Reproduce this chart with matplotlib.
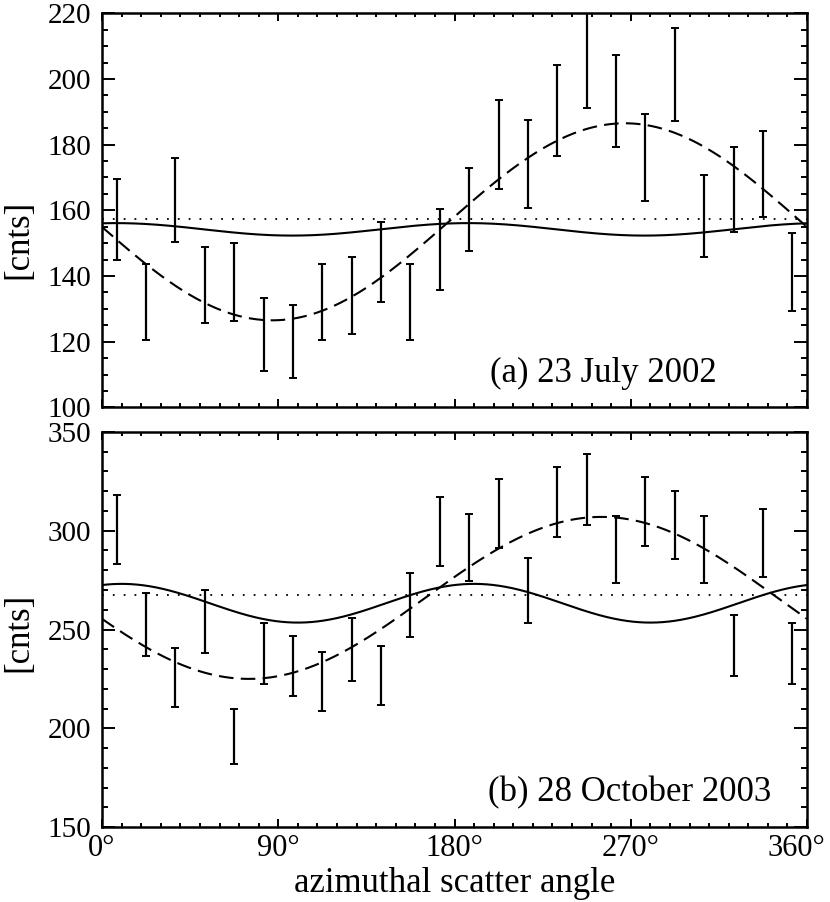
import matplotlib
matplotlib.use('Agg')
import matplotlib.pyplot as plt
from matplotlib.ticker import MultipleLocator
from matplotlib.transforms import ScaledTranslation
import numpy as np

plt.rcParams['font.family'] = ['Liberation Serif', 'DejaVu Serif']

# azimuthal bin centres [deg]
angles = [7.5, 22.5, 37.5, 52.5, 67.5, 82.5, 97.5, 112.5, 127.5, 142.5, 157.5, 172.5,
          187.5, 202.5, 217.5, 232.5, 247.5, 262.5, 277.5, 292.5, 307.5, 322.5, 337.5, 352.5]

# (a) 23 July 2002
cnts_a = [157.2, 132.1, 163.2, 137.3, 138.2, 122.1, 120.1, 132.1, 134.1, 144.2, 132.1, 148.1,
          160.3, 180.1, 174.2, 190.4, 205.5, 193.2, 176.1, 201.3, 158.3, 166.3, 171.1, 141.1]
err_a = [12.4, 11.5, 12.8, 11.6, 11.8, 11.1, 11.1, 11.5, 11.7, 12.1, 11.5, 12.3,
         12.6, 13.5, 13.4, 13.9, 14.5, 14.0, 13.3, 14.2, 12.6, 12.9, 13.1, 11.9]
# fitted curves: (mean, amplitude, phase of max in deg)
dip_a = (156.5, 30.0, 267.0)
quad_a = (154.2, 1.9, 7.0)
flat_a = 157.3

# (b) 28 October 2003
cnts_b = [300.6, 252.5, 225.8, 253.9, 196.0, 237.8, 231.7, 223.7, 239.9, 226.7, 262.5, 299.7,
          291.6, 308.8, 269.8, 314.7, 320.9, 290.7, 309.8, 302.9, 290.7, 241.9, 293.9, 238.0]
err_b = [17.3, 15.8, 14.9, 16.0, 13.9, 15.4, 15.2, 15.0, 15.8, 14.9, 16.2, 17.3,
         17.0, 17.5, 16.3, 17.8, 17.9, 17.0, 17.6, 17.4, 17.0, 15.5, 17.2, 15.5]
dip_b = (266.0, 41.0, 255.0)
quad_b = (263.3, 9.8, 10.0)
flat_b = 267.5

xtick_labels = ['0°', '90°', '180°', '270°', '360°']

phi = np.linspace(0, 360, 721)

def dipole(p):
    m, a, ph = p
    return m + a * np.cos(np.radians(phi - ph))

def quadrupole(p):
    m, a, ph = p
    return m + a * np.cos(2 * np.radians(phi - ph))

fig = plt.figure(figsize=(8.3, 9.02), dpi=100)
ax1 = fig.add_axes([0.1229, 0.5484, 0.8494, 0.4369])
ax2 = fig.add_axes([0.1229, 0.0831, 0.8494, 0.4380])

panels = [
    (ax1, cnts_a, err_a, dip_a, quad_a, flat_a, (100, 220), 20, 5, '(a) 23 July 2002', 0.711, 0.427),
    (ax2, cnts_b, err_b, dip_b, quad_b, flat_b, (150, 350), 50, 10, '(b) 28 October 2003', 0.748, 0.494),
]

for ax, cnts, err, dip, quad, flat, ylim, major, minor, title, tx, ly in panels:
    ax.errorbar(angles, cnts, yerr=err, fmt='none', ecolor='black', elinewidth=1.6,
                capsize=2.6, capthick=1.4)
    ax.plot(phi, dipole(dip), color='black', lw=1.5, dashes=(7, 3.5))
    ax.plot(phi, quadrupole(quad), color='black', lw=1.5)
    ax.axhline(flat, color='black', lw=1.3, dashes=(1, 5))
    ax.set_xlim(0, 360)
    ax.set_ylim(*ylim)
    ax.xaxis.set_major_locator(MultipleLocator(90))
    ax.xaxis.set_minor_locator(MultipleLocator(10))
    ax.yaxis.set_major_locator(MultipleLocator(major))
    ax.yaxis.set_minor_locator(MultipleLocator(minor))
    ax.tick_params(axis='both', which='both', direction='in', top=True, right=True,
                   width=1.4, colors='black')
    ax.tick_params(axis='x', which='major', length=5.8, pad=5, labelsize=22)
    ax.tick_params(axis='x', which='minor', length=2.9)
    ax.tick_params(axis='y', which='major', length=9.4, pad=8, labelsize=21)
    ax.tick_params(axis='y', which='minor', length=4.3)
    for s in ax.spines.values():
        s.set_linewidth(1.8)
    ax.set_ylabel('[cnts]', fontsize=25)
    ax.yaxis.set_label_coords(-0.094, ly)
    ax.text(tx, 0.064, title, transform=ax.transAxes, ha='center', va='baseline',
            fontsize=25)

ax1.tick_params(axis='x', labelbottom=False)
ax2.set_xticks([0, 90, 180, 270, 360])
ax2.set_xticklabels(xtick_labels)
ax2.set_xlabel('azimuthal scatter angle', fontsize=25, labelpad=3)

# nudge the last label inwards so it stays on the canvas
last = ax2.get_xticklabels()[-1]
last.set_transform(last.get_transform() + ScaledTranslation(-8 / 72, 0, fig.dpi_scale_trans))

fig.savefig('out.png', dpi=100)
